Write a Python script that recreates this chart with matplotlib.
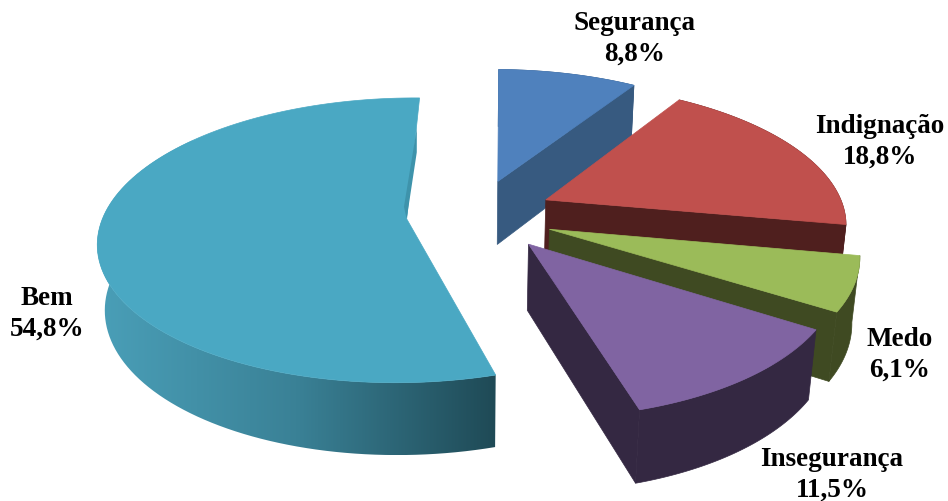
import numpy as np
import matplotlib
matplotlib.use('Agg')
import matplotlib.pyplot as plt
from matplotlib.colors import LinearSegmentedColormap
from matplotlib.patches import Polygon

plt.rcParams['font.family'] = ['Liberation Serif', 'DejaVu Serif']

# Dados
categorias = ['Segurança', 'Indignação', 'Medo', 'Insegurança', 'Bem']
valores = [8.8, 18.8, 6.1, 11.5, 54.8]

# Estilo
explosao = [0.27, 0.28, 0.28, 0.28, 0.21]
desvio = [-4, 0, 0, 6, 0]
raio = [300, 300, 300, 297, 303]
cor_topo = ['#4F81BD', '#C0504D', '#9BBB59', '#8064A2', '#4AA8C3']
cor_lado = ['#375A80', '#4F1F1E', '#3F4A22', '#342842', '#4597AE']
pos_texto = [(635, 39), (880, 142), (900, 355), (832, 475), (47, 314)]
ordem = [0, 1, 2, 4, 3]

# Projeção do disco para a imagem
CX, CY = 470, 216
RK, DZ = 138, 66
P, Q = 0.15, 0.02
ANG0 = 89.0


def projeta(u, v, z, r):
    s = 1 / (1 + P * v + Q * z)
    return np.column_stack((CX + r * u * s, CY - RK * v * s + DZ * z * s))


fig = plt.figure(figsize=(9.48, 5.02), dpi=100)
ax = fig.add_axes([0, 0, 1, 1])
ax.axis('off')

limites = ANG0 - np.concatenate(([0], np.cumsum(valores))) * 3.6

for i in ordem:
    meio = np.radians((limites[i] + limites[i + 1]) / 2 + desvio[i])
    ou = explosao[i] * np.cos(meio)
    ov = explosao[i] * np.sin(meio)
    th = np.radians(np.linspace(limites[i], limites[i + 1], 120))
    ru, rv = ou + np.cos(th), ov + np.sin(th)
    cima = projeta(ru, rv, 0, raio[i])
    baixo = projeta(ru, rv, 1, raio[i])
    apice = projeta(np.array([ou]), np.array([ov]), 0, raio[i])[0]
    apice_b = projeta(np.array([ou]), np.array([ov]), 1, raio[i])[0]
    bem = categorias[i] == 'Bem'

    # parede externa
    if bem:
        frente = rv < 0.6
        parede = np.vstack((cima[frente], baixo[frente][::-1]))
        patch = Polygon(parede, closed=True, fc='none', ec='none')
        ax.add_patch(patch)
        cmap = LinearSegmentedColormap.from_list('bem', ['#4A9FB8', '#3A8196', '#1F4A56'])
        im = ax.imshow(np.linspace(0, 1, 256)[None, :], cmap=cmap, aspect='auto',
                       extent=(parede[:, 0].min(), parede[:, 0].max(),
                               parede[:, 1].max(), parede[:, 1].min()))
        im.set_clip_path(patch)
    else:
        ax.fill(np.r_[cima[:, 0], baixo[::-1, 0]], np.r_[cima[:, 1], baixo[::-1, 1]],
                color=cor_lado[i], lw=0.5)
        # face de corte visivel
        ax.fill([apice[0], cima[-1, 0], baixo[-1, 0], apice_b[0]],
                [apice[1], cima[-1, 1], baixo[-1, 1], apice_b[1]],
                color=cor_lado[i], lw=0.5)

    # topo
    ax.fill(np.r_[apice[0], cima[:, 0]], np.r_[apice[1], cima[:, 1]],
            color=cor_topo[i], lw=0.5)

    # filete escuro junto ao corte de tras
    if bem:
        b = cima[-1]
        fr = [0.25, 0.45, 1.0, 0.9]
        dx = [0.5, 3, 0, -4]
        ax.fill([b[0] + (apice[0] - b[0]) * f + d for f, d in zip(fr, dx)],
                [b[1] + (apice[1] - b[1]) * f for f in fr],
                color='#3E93AB', lw=0)

ax.set_xlim(0, 948)
ax.set_ylim(502, 0)

for nome, valor, (x, y) in zip(categorias, valores, pos_texto):
    ax.text(x, y, f'{nome}\n{valor:.1f}%'.replace('.', ','), ha='center', va='center',
            fontsize=19.5, fontweight='bold', color='black', linespacing=1.3)

fig.savefig('out.png', dpi=100)
